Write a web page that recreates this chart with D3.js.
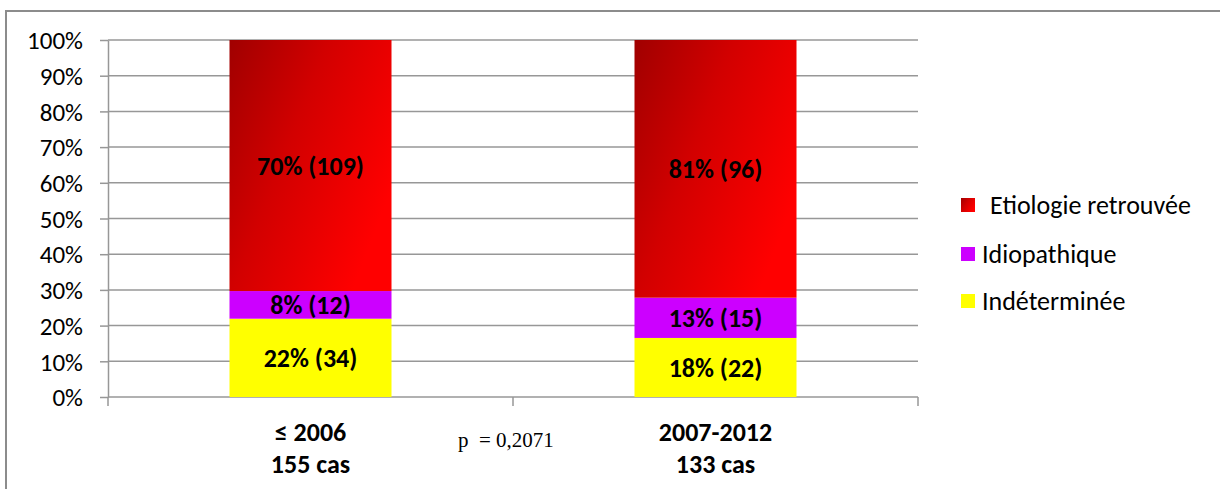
<!DOCTYPE html>
<html><head><meta charset="utf-8">
<script src="https://cdn.jsdelivr.net/npm/d3@7"></script>
<style>
html,body{margin:0;padding:0;background:#fff;}
svg{display:block;}
</style></head>
<body>
<svg id="chart" width="1220" height="489"></svg>
<script>
const categories = ["≤ 2006", "2007-2012"];
const categorySub = ["155 cas", "133 cas"];
const seriesNames = ["Indéterminée", "Idiopathique", "Etiologie retrouvée"];
const indetermineeCounts = [34, 22];
const idiopathiqueCounts = [12, 15];
const etiologieCounts = [109, 96];
const labelIndeterminee = ["22% (34)", "18% (22)"];
const labelIdiopathique = ["8% (12)", "13% (15)"];
const labelEtiologie = ["70% (109)", "81% (96)"];
const yTicks = [0, 0.1, 0.2, 0.3, 0.4, 0.5, 0.6, 0.7, 0.8, 0.9, 1.0];
const pValueText = "p  = 0,2071";

const svg = d3.select("#chart");
const font = "Calibri, Carlito, Lato, sans-serif";

// outer border
svg.append("path").attr("d", "M6,489 V11 H1220").attr("fill", "none")
  .attr("stroke", "#8c8c8c").attr("stroke-width", 2);

const defs = svg.append("defs");
const grad = defs.append("linearGradient").attr("id", "redGrad")
  .attr("x1", "0").attr("y1", "0").attr("x2", "1").attr("y2", "0.6");
grad.append("stop").attr("offset", "0%").attr("stop-color", "#a00000");
grad.append("stop").attr("offset", "45%").attr("stop-color", "#d20000");
grad.append("stop").attr("offset", "100%").attr("stop-color", "#ff0000");

const x = d3.scaleBand().domain(categories).range([108, 918]).paddingInner(0.6).paddingOuter(0.3);
const y = d3.scaleLinear().domain([0, 1]).range([397, 40]);

// gridlines
svg.append("g").selectAll("line").data(yTicks.slice(1)).join("line")
  .attr("x1", 108).attr("x2", 918)
  .attr("y1", d => y(d)).attr("y2", d => y(d))
  .attr("stroke", "#979797").attr("stroke-width", 1.5);

// y axis
const yAxis = d3.axisLeft(y).tickValues(yTicks).tickFormat(d => Math.round(d * 100) + "%").tickSize(8).tickSizeOuter(0);
const ga = svg.append("g").attr("transform", "translate(108,0)").call(yAxis);
ga.attr("font-size", null).attr("font-family", null);
ga.select(".domain").attr("stroke", "#979797").attr("stroke-width", 1.5);
ga.selectAll(".tick line").attr("stroke", "#979797").attr("stroke-width", 1.5);
ga.selectAll("text").attr("font-family", font).attr("font-size", 25).attr("fill", "#000").attr("x", -25).attr("dy", "0.35em");

// x axis
svg.append("line").attr("x1", 108).attr("x2", 918).attr("y1", y(0)).attr("y2", y(0))
  .attr("stroke", "#979797").attr("stroke-width", 1.5);
const step = (918 - 108) / categories.length;
svg.append("g").selectAll("line").data(d3.range(categories.length + 1)).join("line")
  .attr("x1", i => 108 + i * step).attr("x2", i => 108 + i * step)
  .attr("y1", y(0)).attr("y2", y(0) + 9)
  .attr("stroke", "#979797").attr("stroke-width", 1.5);

// stacked data
const rows = categories.map((c, i) => {
  const tot = indetermineeCounts[i] + idiopathiqueCounts[i] + etiologieCounts[i];
  return {cat: c, ind: indetermineeCounts[i] / tot, idio: idiopathiqueCounts[i] / tot, eti: etiologieCounts[i] / tot, i};
});
const stack = d3.stack().keys(["ind", "idio", "eti"]);
const layers = stack(rows);
const fills = ["#ffff00", "#cc00ff", "url(#redGrad)"];
const labels = [labelIndeterminee, labelIdiopathique, labelEtiologie];

layers.forEach((layer, k) => {
  const g = svg.append("g");
  g.selectAll("rect").data(layer).join("rect")
    .attr("x", d => x(d.data.cat)).attr("width", x.bandwidth())
    .attr("y", d => y(d[1])).attr("height", d => y(d[0]) - y(d[1]))
    .attr("fill", fills[k]);
  g.selectAll("text").data(layer).join("text")
    .attr("x", d => x(d.data.cat) + x.bandwidth() / 2)
    .attr("y", d => (y(d[0]) + y(d[1])) / 2)
    .attr("dy", "0.36em").attr("text-anchor", "middle")
    .attr("font-family", font).attr("font-weight", "bold").attr("font-size", 26)
    .attr("fill", "#000")
    .text(d => labels[k][d.data.i]);
});

// category labels
const cl = svg.append("g");
categories.forEach((c, i) => {
  const cx = x(c) + x.bandwidth() / 2;
  cl.append("text").attr("x", cx).attr("y", 441).attr("text-anchor", "middle")
    .attr("font-family", font).attr("font-weight", "bold").attr("font-size", 26).text(c);
  cl.append("text").attr("x", cx).attr("y", 473).attr("text-anchor", "middle")
    .attr("font-family", font).attr("font-weight", "bold").attr("font-size", 26).text(categorySub[i]);
});

// p value
svg.append("text").attr("x", 458).attr("y", 447)
  .attr("font-family", "'Liberation Serif', 'Times New Roman', serif").attr("font-size", 21)
  .style("white-space", "pre").text(pValueText);

// legend
const legendItems = [
  {name: seriesNames[2], fill: "url(#redGrad)", y: 205, tx: 990},
  {name: seriesNames[1], fill: "#cc00ff", y: 254, tx: 982},
  {name: seriesNames[0], fill: "#ffff00", y: 301, tx: 982}
];
const lg = svg.append("g");
legendItems.forEach(it => {
  lg.append("rect").attr("x", 961).attr("y", it.y - 7).attr("width", 14).attr("height", 14).attr("fill", it.fill);
  lg.append("text").attr("x", it.tx).attr("y", it.y).attr("dy", "0.35em")
    .attr("font-family", font).attr("font-size", 26).attr("fill", "#000").text(it.name);
});
</script>
</body></html>
